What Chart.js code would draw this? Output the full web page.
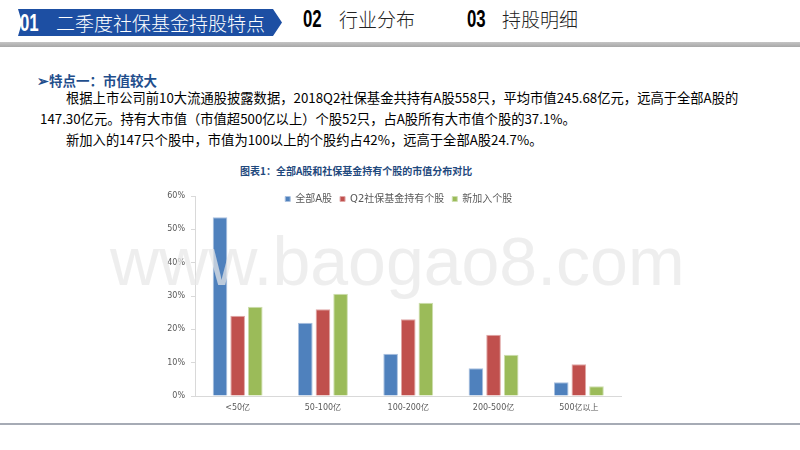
<!DOCTYPE html>
<html>
<head>
<meta charset="utf-8">
<script src="https://cdn.jsdelivr.net/npm/chart.js@4/dist/chart.umd.min.js"></script>
<style>
  body { margin: 0; width: 800px; height: 450px; background: #fff; position: relative; overflow: hidden;
         font-family: "Noto Sans CJK SC", sans-serif; }
  .abs { position: absolute; white-space: nowrap; }
  #tab1 { left: 18px; top: 9px; width: 264px; height: 27px; background: #1d4fa3;
          clip-path: polygon(0 0, 255px 0, 264px 13.5px, 255px 27px, 0 27px, 4px 13.5px); }
  .num { font-family: "Liberation Sans", sans-serif; font-weight: bold; font-size: 24px;
         transform: scaleX(0.7); transform-origin: left center; }
  .tabtxt { font-size: 19px; line-height: 27px; font-weight: 300; }
  #topline { left: 0; top: 42px; width: 800px; height: 5px; background: linear-gradient(#c4c4c4, #a8a8a8); }
  #botline { left: 0; top: 423px; width: 800px; height: 2px; background: #a6abb5; }
  #head { left: 37px; top: 70px; font-size: 13.5px; font-weight: bold; color: #1f4e8c; }
  .para { font-size: 13.3px; color: #000; }
  #ctitle { left: 240px; top: 163px; font-size: 10px; font-weight: bold; color: #1f497d; }
  #wrap { left: 150px; top: 168px; width: 480px; height: 252px; }
  #mark { left: 110px; top: 227px; font-family: "Liberation Sans", sans-serif; font-size: 68px; line-height: 68px;
          color: rgba(232,232,232,0.72); }
</style>
</head>
<body>
<div id="tab1" class="abs"></div>
<div class="abs num" style="left:20px; top:9px; line-height:27px; color:#fff;">01</div>
<div class="abs tabtxt" style="left:56px; top:9px; color:#fff;">二季度社保基金持股特点</div>
<div class="abs num" style="left:303px; top:5px; line-height:27px; color:#000;">02</div>
<div class="abs tabtxt" style="left:339px; top:5px; color:#222;">行业分布</div>
<div class="abs num" style="left:467px; top:5px; line-height:27px; color:#000;">03</div>
<div class="abs tabtxt" style="left:502px; top:5px; color:#222;">持股明细</div>
<div id="topline" class="abs"></div>

<div id="head" class="abs">➢特点一：市值较大</div>
<div class="abs para" style="left:66px; top:88px;">根据上市公司前10大流通股披露数据，2018Q2社保基金共持有A股558只，平均市值245.68亿元，远高于全部A股的</div>
<div class="abs para" style="left:40px; top:109px;">147.30亿元。持有大市值（市值超500亿以上）个股52只，占A股所有大市值个股的37.1%。</div>
<div class="abs para" style="left:66px; top:130px;">新加入的147只个股中，市值为100以上的个股约占42%，远高于全部A股24.7%。</div>

<div id="ctitle" class="abs">图表1：全部A股和社保基金持有个股的市值分布对比</div>
<div id="wrap" class="abs"><canvas id="chart"></canvas></div>
<div id="mark" class="abs">www.baogao8.com</div>
<div id="botline" class="abs"></div>

<script>
const categories = ['<50亿', '50-100亿', '100-200亿', '200-500亿', '500亿以上'];
const allShares = [53.6, 22.0, 12.7, 8.3, 4.1];
const fundHeld = [24.1, 26.0, 23.0, 18.4, 9.5];
const newAdded = [26.8, 30.7, 28.0, 12.4, 2.9];
const yTicks = [0, 10, 20, 30, 40, 50, 60];

const labelFont = { family: 'DejaVu Sans, Noto Sans CJK SC', size: 8 };

// move the legend down and right so it sits at the level of the top tick, like the original
const legendShift = {
    id: 'legendShift',
    afterLayout(chart) {
        chart.legend.top += 18;
        chart.legend.bottom += 18;
        chart.legend.left += 13;
        chart.legend.right += 13;
    }
};

new Chart(document.getElementById('chart'), {
    type: 'bar',
    data: {
        labels: categories,
        datasets: [
            { label: '全部A股', data: allShares, backgroundColor: '#4f81bd', borderColor: '#a9c0df', borderWidth: 1 },
            { label: 'Q2社保基金持有个股', data: fundHeld, backgroundColor: '#c0504d', borderColor: '#e0a7a6', borderWidth: 1 },
            { label: '新加入个股', data: newAdded, backgroundColor: '#9bbb59', borderColor: '#cddeae', borderWidth: 1 }
        ]
    },
    options: {
        responsive: true,
        maintainAspectRatio: false,
        animation: false,
        categoryPercentage: 0.62,
        barPercentage: 0.83,
        layout: { padding: { top: 0, right: 8.5, left: 0, bottom: 0 } },
        scales: {
            y: {
                min: 0,
                max: 60,
                afterFit: (scale) => { scale.width = 45; },
                afterBuildTicks: (scale) => { scale.ticks = yTicks.map(v => ({ value: v })); },
                grid: { drawOnChartArea: false, drawTicks: true, tickLength: 4, color: '#d9d9d9' },
                border: { color: '#d9d9d9' },
                ticks: { padding: 6, color: '#595959', font: labelFont, callback: v => v + '%' }
            },
            x: {
                afterFit: (scale) => { scale.height = 24; },
                grid: { display: false, drawTicks: false },
                border: { color: '#d9d9d9' },
                ticks: { padding: 7, color: '#595959', font: labelFont }
            }
        },
        plugins: {
            legend: {
                position: 'top',
                labels: {
                    boxWidth: 5,
                    boxHeight: 5,
                    padding: 8,
                    color: '#595959',
                    font: { family: 'DejaVu Sans, Noto Sans CJK SC', size: 10 }
                }
            },
            tooltip: { enabled: false }
        }
    },
    plugins: [legendShift]
});
</script>
</body>
</html>
